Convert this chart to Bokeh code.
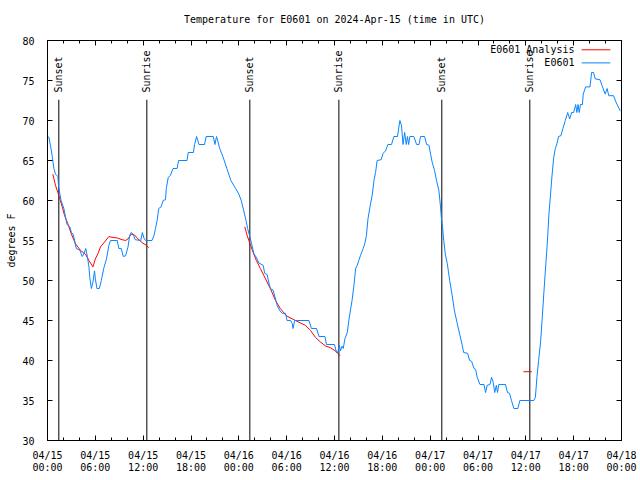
import math
from bokeh.plotting import figure
from bokeh.models import Range1d, FixedTicker, LinearAxis, CustomLabelingPolicy
from bokeh.core.properties import value
from bokeh.embed import file_html
from bokeh.resources import INLINE

TITLE = "Temperature for E0601 on 2024-Apr-15 (time in UTC)"
Y_LABEL = "degrees F"

# time axis: hours since 2024-04-15 00:00 UTC
obs_hours = [
    0.15, 0.4, 0.6, 0.8, 1.0, 1.3, 1.4, 1.55, 1.7, 2.05, 2.25, 2.45, 2.8, 3.0, 3.2, 3.4, 3.6,
    4.05, 4.35, 4.55, 4.8, 5.0, 5.2, 5.3, 5.5, 5.7, 5.9, 6.0, 6.2, 6.5, 6.75, 7.05, 7.4, 7.7,
    7.9, 8.75, 8.95, 9.25, 9.5, 9.8, 10.1, 10.3, 10.5, 10.75, 11.0, 11.7, 11.9, 12.1, 12.3,
    13.1, 13.35, 13.55, 13.75, 13.95, 14.25, 14.5, 14.8, 14.9, 15.15, 15.4, 15.75, 16.25,
    16.45, 17.5, 17.65, 18.3, 18.45, 18.7, 19.0, 19.7, 19.9, 20.8, 21.0, 21.2, 21.4, 21.6,
    22.0, 22.5, 23.0, 23.6, 24.0, 24.3, 24.6, 24.9, 25.1, 25.4, 25.6, 25.9, 26.2, 26.5,
    27.05, 27.25, 27.55, 27.75, 27.95, 28.3, 28.6, 28.8, 29.15, 29.45, 29.85, 30.05, 30.5,
    30.7, 30.8, 31.0, 32.8, 33.1, 33.75, 34.05, 34.8, 35.0, 36.0, 36.25, 36.4, 36.6, 36.75,
    36.95, 37.1, 37.3, 37.6, 37.8, 38.0, 38.2, 38.45, 38.65, 38.85, 39.05, 39.25, 39.6,
    39.8, 40.0, 40.2, 40.45, 40.75, 40.95, 41.15, 41.35, 41.85, 42.1, 42.4, 42.7, 43.15,
    43.45, 43.9, 44.2, 44.4, 44.6, 44.8, 45.0, 45.15, 45.3, 45.45, 45.95, 46.3, 46.6, 46.8,
    47.3, 47.55, 47.85, 48.05, 48.25, 48.55, 48.8, 49.1, 49.3, 49.4, 49.55, 49.7, 49.9,
    50.15, 50.45, 50.75, 51.05, 51.4, 51.7, 52.0, 52.2, 52.7, 52.95, 53.2, 53.5, 53.7,
    53.9, 54.25, 54.75, 54.95, 55.15, 55.5, 55.7, 55.9, 56.1, 56.3, 56.45, 56.6, 57.0,
    57.45, 57.7, 57.95, 58.2, 58.5, 59.0, 59.25, 61.0, 61.2, 61.4, 61.6, 61.85, 62.05,
    62.25, 62.45, 62.7, 62.9, 63.1, 63.3, 63.5, 63.7, 63.9, 64.1, 64.4, 64.65, 64.95,
    65.25, 65.5, 65.75, 66.0, 66.25, 66.4, 66.55, 66.7, 66.85, 67.1, 67.2, 67.5, 68.05,
    68.25, 68.5, 68.7, 69.3, 69.55, 69.95, 70.2, 70.4, 71.0, 71.35, 71.85,
]
obs_temps = [
    68, 66.7, 65.5, 64, 63.3, 63, 61.7, 60.8, 60, 59, 58, 57, 56.7, 56, 55.8, 55, 54,
    53.8, 53, 53.3, 54, 53, 51.7, 50.4, 49, 49.8, 51.2, 50.2, 49, 49, 50, 51.5, 52.7, 54.4,
    55, 55, 54, 54, 53, 53.1, 54.2, 55.6, 56, 55.8, 55.1, 55, 56, 55.3, 55,
    55, 55.6, 56.5, 57.5, 59, 59.2, 60, 60.1, 61.5, 62.9, 63.1, 64, 64,
    65, 65, 66, 66, 67, 68, 67, 67, 68, 68, 67, 68, 67.3, 66.5,
    65.5, 64, 62.5, 61.5, 60.8, 60, 58.8, 57.5, 56.5, 55.4, 54.6, 53.3, 52.9, 52.2,
    51.9, 50.9, 50.75, 49.8, 49, 48.8, 47.7, 46.9, 46.2, 45.9, 45.9, 45, 45,
    44.6, 44, 45, 45, 44, 44, 43, 43, 42, 42, 41, 41, 41.9, 41.2,
    41.8, 41.5, 42.7, 43.5, 45, 46.3, 47.5, 49.5, 51.5, 51.9, 52.5, 53.1, 54,
    54.6, 55.6, 57.7, 59.2, 60.8, 62.5, 63.5, 65, 65.1, 65.9, 66.2, 67, 67,
    68, 68, 70, 69.4, 67, 68.5, 67, 68, 67, 68, 68, 67, 67, 68,
    68, 67, 66.9, 65.8, 64.8, 63.75, 62.5, 61.2, 59.2, 57.9, 56.7, 55, 53.3,
    52.1, 50, 48.2, 46.2, 44.6, 43.3, 42, 41, 40.9, 40, 39.9, 39, 38.9,
    37.9, 37, 37, 36, 36.9, 37, 37.9, 37.3, 36, 36.9, 36, 37, 37,
    37, 36, 35.9, 35, 34, 34, 35, 35, 35.4, 38, 40, 42.3, 45.2,
    48.3, 51.2, 54.8, 58.3, 60.8, 63.3, 65.4, 66.5, 67.1, 68, 68.1, 69, 70,
    71, 70.2, 71, 71, 72, 71, 72, 71, 72, 72, 73.3, 74.2, 74.2,
    76, 76, 75.2, 75.1, 74.4, 73.3, 74, 73.1, 73.1, 72.2, 71.2,
]

analysis_hours = [
    [0.67, 1.0, 1.3, 1.55, 1.85, 2.15, 2.55, 3.0, 3.5, 4.15, 4.75, 5.2, 5.7, 6.0, 6.3,
     6.65, 7.15, 7.7, 8.1, 8.8, 9.35, 9.8, 10.1, 10.5, 10.9, 11.35, 11.9, 12.4, 12.7],
    [24.75, 25.05, 25.4, 25.8, 26.2, 26.7, 27.35, 27.95, 28.6, 29.2, 29.95, 30.7, 31.5,
     32.35, 33.0, 33.6, 34.25, 34.9, 35.5, 36.1, 36.7],
    [59.7, 60.75],
]
analysis_temps = [
    [63.3, 61.9, 61, 60.2, 59.2, 58.1, 57.1, 55.8, 54.6, 53.75, 53.3, 52.5, 51.7, 52.7, 53.3,
     54.2, 54.8, 55.5, 55.4, 55.3, 55.1, 55, 55.2, 55.8, 55.7, 55.2, 54.7, 54.4, 54.1],
    [56.7, 55.6, 54.6, 53.5, 52.5, 51.5, 50.2, 49, 47.5, 46.5, 45.6, 45.2, 44.8,
     44.4, 43.75, 42.9, 42.3, 41.8, 41.6, 41.2, 40.6],
    [38.6, 38.6],
]

event_hours = [1.42, 12.46, 25.38, 36.55, 49.46, 60.5]
event_names = ["Sunset", "Sunrise", "Sunset", "Sunrise", "Sunset", "Sunrise"]

x_tick_hours = [0, 6, 12, 18, 24, 30, 36, 42, 48, 54, 60, 66, 72]
x_tick_labels = ["04/15\n00:00", "04/15\n06:00", "04/15\n12:00", "04/15\n18:00",
                 "04/16\n00:00", "04/16\n06:00", "04/16\n12:00", "04/16\n18:00",
                 "04/17\n00:00", "04/17\n06:00", "04/17\n12:00", "04/17\n18:00",
                 "04/18\n00:00"]
x_minor_hours = list(range(0, 73, 2))
y_ticks = [30, 35, 40, 45, 50, 55, 60, 65, 70, 75, 80]

series_names = ["E0601 Analysis", "E0601"]
series_colors = ["#ff0000", "#0a84ff"]

FONT = "DejaVu Sans Mono"
FS = "10px"

p = figure(width=640, height=480, output_backend="svg", toolbar_location=None,
           x_range=Range1d(0, 72), y_range=Range1d(30, 80), title=TITLE,
           min_border_left=47, min_border_right=19, min_border_top=40, min_border_bottom=40,
           background_fill_color="white", border_fill_color="white")
p.grid.visible = False
p.outline_line_color = "black"
p.outline_line_width = 1
p.outline_line_alpha = 1

p.title.text_font = FONT
p.title.text_font_size = FS
p.title.text_font_style = "normal"
p.title.text_color = "black"
p.title.align = "center"
p.title.standoff = 10

def style_axis(ax):
    ax.axis_line_color = "black"
    ax.major_tick_line_color = "black"
    ax.minor_tick_line_color = "black"
    ax.major_tick_in = 5
    ax.major_tick_out = 0
    ax.minor_tick_in = 3
    ax.minor_tick_out = 0
    ax.major_label_text_font = FONT
    ax.major_label_text_font_size = FS
    ax.major_label_text_color = "black"

xax = p.xaxis[0]
style_axis(xax)
xax.ticker = FixedTicker(ticks=x_tick_hours, minor_ticks=x_minor_hours)
xax.major_label_overrides = {h: lab for h, lab in zip(x_tick_hours, x_tick_labels)}
xax.major_label_standoff = 9
xax.major_label_text_line_height = 1.1

yax = p.yaxis[0]
style_axis(yax)
yax.ticker = FixedTicker(ticks=y_ticks)
yax.minor_tick_line_color = None
yax.major_label_standoff = 13
yax.axis_label = Y_LABEL
yax.axis_label_text_font = FONT
yax.axis_label_text_font_size = FS
yax.axis_label_text_font_style = "normal"
yax.axis_label_text_color = "black"
yax.axis_label_standoff = 2

# mirrored tick marks on the top and right edges (no labels)
rax = LinearAxis(ticker=FixedTicker(ticks=y_ticks))
style_axis(rax)
rax.minor_tick_line_color = None
rax.major_label_policy = CustomLabelingPolicy(code="return []")
rax.major_label_standoff = 0
p.add_layout(rax, "right")

tax = LinearAxis(ticker=FixedTicker(ticks=x_tick_hours, minor_ticks=x_minor_hours))
style_axis(tax)
tax.major_label_policy = CustomLabelingPolicy(code="return []")
tax.major_label_standoff = 0
p.add_layout(tax, "above")

# sunrise / sunset markers
p.segment(x0=event_hours, y0=30, x1=event_hours, y1=72.6, line_color="black", line_width=1)
p.text(x=event_hours, y=73.5, text=event_names, angle=math.pi / 2,
       text_align="left", text_baseline="middle",
       text_font=value(FONT), text_font_size=FS, text_color="black")

# data
p.multi_line(xs=analysis_hours, ys=analysis_temps, line_color=series_colors[0], line_width=1)
p.line(obs_hours, obs_temps, line_color=series_colors[1], line_width=1)

# legend (text then sample line, as in the original)
leg_y = [78.84, 77.2]
p.text(x=[66.1, 66.1], y=leg_y, text=series_names, text_align="right", text_baseline="middle",
       text_font=value(FONT), text_font_size=FS, text_color="black")
p.segment(x0=[67.0, 67.0], y0=leg_y, x1=[70.6, 70.6], y1=leg_y,
          line_color=series_colors, line_width=1)

open("out.html", "w").write(file_html(p, INLINE))
